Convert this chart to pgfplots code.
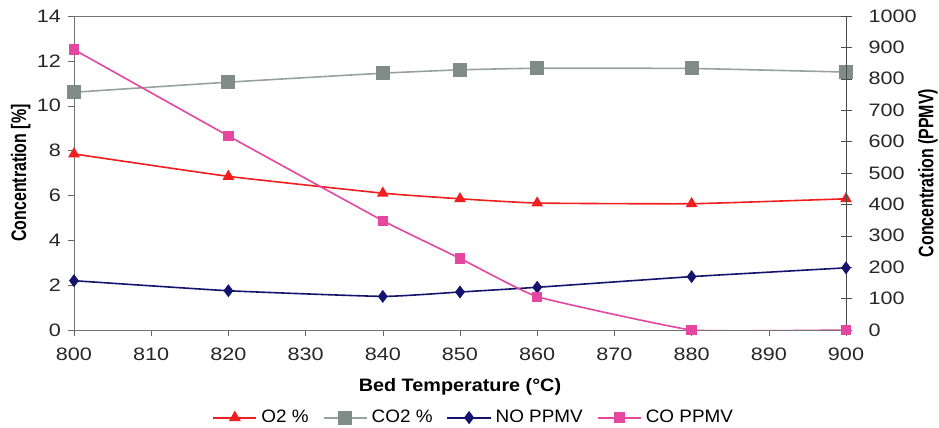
\documentclass[border=0pt]{standalone}
\usepackage{fontspec}
\setmainfont{Liberation Sans}
\usepackage{graphicx}
\usepackage{pgfplots}
\pgfplotsset{compat=1.18}
\definecolor{cred}{RGB}{240,30,30}
\definecolor{cgray}{RGB}{128,140,136}
\definecolor{cgrayl}{RGB}{150,162,158}
\definecolor{cnavy}{RGB}{20,20,110}
\definecolor{cmag}{RGB}{228,70,160}
\pgfplotsset{
  o2style/.style={color=cred, line width=0.8pt, mark=triangle*, mark size=2.6pt, mark options={fill=cred, draw=cred}},
  co2style/.style={color=cgrayl, line width=0.8pt, mark=square*, mark size=3.1pt, mark options={fill=cgray, draw=cgray}},
  nostyle/.style={color=cnavy, line width=0.8pt, mark=diamond*, mark size=2.6pt, mark options={fill=cnavy, draw=cnavy}},
  costyle/.style={color=cmag, line width=0.8pt, mark=square*, mark size=2.2pt, mark options={fill=cmag, draw=cmag}},
}
\begin{document}
\begin{tikzpicture}[font=\fontsize{8.5}{10}\selectfont]
\path[use as bounding box] (-37pt,-49pt) rectangle (432.5pt,165pt);
\begin{axis}[
  scale only axis, width=386pt, height=157pt,
  xmin=800, xmax=900, ymin=0, ymax=14,
  xtick={800,810,...,900}, ytick={0,2,...,14},
  xtick pos=bottom, ytick pos=left,
  tick align=outside, major tick length=3pt,
  axis line style={black!55},
  tick style={black!60},
  /pgf/number format/assume math mode=true,
  /pgf/number format/1000 sep={},
  ticklabel style={font=\fontsize{9}{10}\selectfont, text=black!85},
  xticklabel={\scalebox{1.2}[1]{\pgfmathprintnumber{\tick}}},
  yticklabel={\scalebox{1.2}[1]{\pgfmathprintnumber{\tick}}},
  xticklabel style={yshift=-2.5pt},
  xlabel={\scalebox{1.1}[1]{\textbf{Bed Temperature (°C)}}},
  xlabel style={font=\fontsize{9}{10}\selectfont, at={(axis description cs:0.5,0)}, anchor=center, yshift=-28.5pt},
  ylabel={\scalebox{0.76}[1]{\textbf{Concentration [\%]}}},
  ylabel style={font=\fontsize{10.5}{12}\selectfont, at={(axis description cs:-0.069,0.5)}, anchor=center},
]
\addplot[o2style, smooth, tension=0.25] coordinates {(800,7.85) (820,6.85) (840,6.1) (850,5.85) (860,5.66) (880,5.63) (900,5.85)};
\addplot[co2style, smooth, tension=0.25] coordinates {(800,10.6) (820,11.05) (840,11.45) (850,11.6) (860,11.67) (880,11.66) (900,11.5)};
\end{axis}
\begin{axis}[
  scale only axis, width=386pt, height=157pt,
  xmin=800, xmax=900, ymin=0, ymax=1000,
  axis x line=none, axis y line*=right,
  ytick={0,100,...,1000},
  tick align=center, major tick length=5.5pt,
  axis line style={black!70},
  tick style={black!70},
  /pgf/number format/assume math mode=true,
  /pgf/number format/1000 sep={},
  ticklabel style={font=\fontsize{9}{10}\selectfont, text=black!85},
  yticklabel={\scalebox{1.2}[1]{\pgfmathprintnumber{\tick}}},
  yticklabel style={xshift=5pt},
  ylabel={\scalebox{0.76}[1]{\textbf{Concentration (PPMV)}}},
  ylabel style={font=\fontsize{10.5}{12}\selectfont, at={(axis description cs:1.106,0.5)}, anchor=center},
  legend columns=4,
  legend style={draw=none, fill=none, at={(axis description cs:0.519,-0.279)}, anchor=center, font=\fontsize{9}{10}\selectfont, /tikz/every even column/.append style={column sep=5pt}},
  legend image code/.code={\draw[mark repeat=2, mark phase=2, line width=0.9pt, #1] plot coordinates {(0cm,0cm) (0.38cm,0cm) (0.76cm,0cm)};},
]
\addlegendimage{o2style}
\addlegendentry{\scalebox{1.05}[1]{O2 \%}}
\addlegendimage{co2style}
\addlegendentry{\scalebox{1.05}[1]{CO2 \%}}
\addplot[nostyle, smooth, tension=0.25] coordinates {(800,157) (820,125) (840,107) (850,121) (860,136) (880,170) (900,198)};
\addlegendentry{\scalebox{1.05}[1]{NO PPMV}}
\addplot[costyle, smooth, tension=0.2] coordinates {(800,893) (820,618) (840,348) (850,228) (860,106) (880,0) (900,0)};
\addlegendentry{\scalebox{1.05}[1]{CO PPMV}}
\end{axis}
\end{tikzpicture}
\end{document}
